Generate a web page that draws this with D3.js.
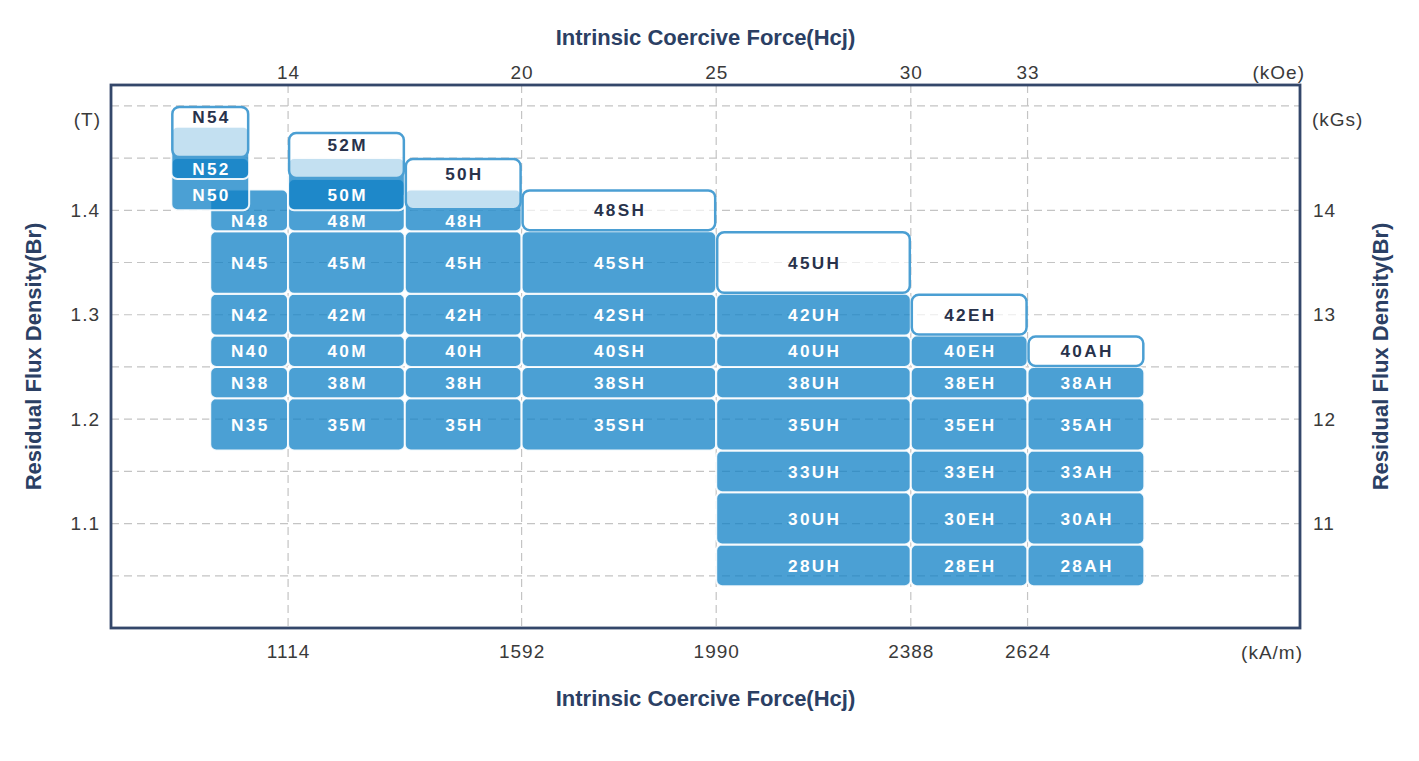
<!DOCTYPE html>
<html><head><meta charset="utf-8">
<script src="https://cdn.jsdelivr.net/npm/d3@7"></script>
<style>body{margin:0;background:#fff}svg{display:block}</style>
</head><body><svg id="c" width="1419" height="761"></svg>
<script>
// ---- data ----
const gradeNames = [
 'N35','N38','N40','N42','N45','N48','N50','N52','N54',
 '35M','38M','40M','42M','45M','48M','50M','52M',
 '35H','38H','40H','42H','45H','48H','50H',
 '35SH','38SH','40SH','42SH','45SH','48SH',
 '28UH','30UH','33UH','35UH','38UH','40UH','42UH','45UH',
 '28EH','30EH','33EH','35EH','38EH','40EH','42EH',
 '28AH','30AH','33AH','35AH','38AH','40AH'];
const brLow = [
 1.17,1.22,1.25,1.28,1.32,1.38,1.40,1.43,1.45,
 1.17,1.22,1.25,1.28,1.32,1.38,1.40,1.43,
 1.17,1.22,1.25,1.28,1.32,1.38,1.40,
 1.17,1.22,1.25,1.28,1.32,1.38,
 1.04,1.08,1.13,1.17,1.22,1.25,1.28,1.32,
 1.04,1.08,1.13,1.17,1.22,1.25,1.28,
 1.04,1.08,1.13,1.17,1.22,1.25];
const brHigh = [
 1.22,1.25,1.28,1.32,1.38,1.42,1.45,1.48,1.50,
 1.22,1.25,1.28,1.32,1.38,1.43,1.45,1.475,
 1.22,1.25,1.28,1.32,1.38,1.42,1.45,
 1.22,1.25,1.28,1.32,1.38,1.42,
 1.08,1.13,1.17,1.22,1.25,1.28,1.32,1.38,
 1.08,1.13,1.17,1.22,1.25,1.28,1.32,
 1.08,1.13,1.17,1.22,1.25,1.28];
const hcjLow = [
 12,12,12,12,12,12,11,11,11,
 14,14,14,14,14,14,14,14,
 17,17,17,17,17,17,17,
 20,20,20,20,20,20,
 25,25,25,25,25,25,25,25,
 30,30,30,30,30,30,30,
 33,33,33,33,33,33];
const hcjHigh = [
 14,14,14,14,14,14,13,13,13,
 17,17,17,17,17,17,17,17,
 20,20,20,20,20,20,20,
 25,25,25,25,25,25,
 30,30,30,30,30,30,30,30,
 33,33,33,33,33,33,33,
 36,36,36,36,36,36];
const newGrades = ['N54','52M','50H','48SH','45UH','42EH','40AH'];

const kOeTicks = [14,20,25,30,33];
const kAmLabels = ['1114','1592','1990','2388','2624'];
const teslaTicks = [1.1,1.2,1.3,1.4];
const kGsLabels = ['11','12','13','14'];
const gridBr = [1.05,1.10,1.15,1.20,1.25,1.30,1.35,1.40,1.45,1.50];
const titleX = 'Intrinsic Coercive Force(Hcj)';
const titleY = 'Residual Flux Density(Br)';

// ---- layout ----
const L = 111, R = 1300, T = 85, B = 628;
const svg = d3.select('#c');
const x = d3.scaleLinear().domain([9.45, 40]).range([L, R]);
const y = d3.scaleLinear().domain([1.0, 1.52]).range([B, T]);

const grades = gradeNames.map((n, i) => ({
  name: n, fam: n.replace(/\d+/, ''), lo: brLow[i], hi: brHigh[i],
  h0: hcjLow[i], h1: hcjHigh[i], isNew: newGrades.includes(n)
}));
d3.groups(grades, d => d.fam).forEach(([f, arr]) => {
  arr.sort((a, b) => a.lo - b.lo);
  arr.forEach((g, i) => {
    const prev = arr[i - 1], next = arr[i + 1];
    if (g.isNew) {
      const a = prev ? Math.max(g.lo, prev.hi) : g.lo;
      g.labelBr = (a + g.hi) / 2;
    } else {
      const b = next ? Math.min(g.hi, next.lo) : g.hi;
      g.labelBr = (g.lo + b) / 2;
    }
  });
});

// grid
const grid = svg.append('g').attr('stroke', '#c4c4c4').attr('stroke-width', 1.2)
  .attr('stroke-dasharray', '8,5');
grid.selectAll('line.h').data(gridBr).join('line')
  .attr('x1', L).attr('x2', R).attr('y1', d => y(d)).attr('y2', d => y(d));
grid.selectAll('line.v').data(kOeTicks).join('line')
  .attr('y1', T).attr('y2', B).attr('x1', d => x(d)).attr('x2', d => x(d));

// solid blocks
const solid = grades.filter(g => !g.isNew);
svg.append('g').selectAll('rect').data(solid).join('rect')
  .attr('x', d => x(d.h0)).attr('width', d => x(d.h1) - x(d.h0))
  .attr('y', d => y(d.hi)).attr('height', d => y(d.lo) - y(d.hi))
  .attr('rx', 6).attr('ry', 6)
  .attr('fill', 'rgb(15,128,198)').attr('fill-opacity', 0.75)
  .attr('stroke', '#fff').attr('stroke-opacity', 0.9).attr('stroke-width', 2);

// new (outlined) grades
const nw = grades.filter(g => g.isNew);
svg.append('g').selectAll('rect').data(nw).join('rect')
  .attr('x', d => x(d.h0) + 1).attr('width', d => x(d.h1) - x(d.h0) - 2)
  .attr('y', d => y(d.hi) + 1).attr('height', d => y(d.lo) - y(d.hi) - 2)
  .attr('rx', 7).attr('ry', 7)
  .attr('fill', '#fff').attr('fill-opacity', 0.67)
  .attr('stroke', '#4b9fd3').attr('stroke-width', 2.5);

// labels
const ls = 2.3;
svg.append('g').selectAll('text').data(grades).join('text')
  .attr('x', d => (x(d.h0) + x(d.h1)) / 2 + ls / 2)
  .attr('y', d => y(d.labelBr))
  .attr('dy', '0.36em')
  .attr('text-anchor', 'middle')
  .attr('font-family', '"Liberation Sans", Arial, sans-serif')
  .attr('font-weight', 'bold').attr('font-size', 17.2)
  .attr('letter-spacing', ls)
  .attr('fill', d => d.isNew ? '#28324b' : '#fff')
  .text(d => d.name);

// frame
svg.append('rect').attr('x', L).attr('y', T).attr('width', R - L).attr('height', B - T)
  .attr('fill', 'none').attr('stroke', '#34476a').attr('stroke-width', 2.8);

// axes
const tickFont = g => g.call(s => s.select('.domain').remove())
  .selectAll('text').attr('font-family', '"Liberation Sans", Arial, sans-serif')
  .attr('font-size', 19).attr('fill', '#3a3a3a').attr('letter-spacing', 1);

svg.append('g').attr('transform', `translate(0,${T})`)
  .call(d3.axisTop(x).tickValues(kOeTicks).tickSize(0).tickPadding(6).tickFormat(d3.format('d')))
  .call(tickFont);
svg.append('g').attr('transform', `translate(0,${B})`)
  .call(d3.axisBottom(x).tickValues(kOeTicks).tickSize(0).tickPadding(17)
    .tickFormat((d, i) => kAmLabels[i]))
  .call(tickFont);
svg.append('g').attr('transform', `translate(${L},0)`)
  .call(d3.axisLeft(y).tickValues(teslaTicks).tickSize(0).tickPadding(11).tickFormat(d3.format('.1f')))
  .call(tickFont);
svg.append('g').attr('transform', `translate(${R},0)`)
  .call(d3.axisRight(y).tickValues(teslaTicks).tickSize(0).tickPadding(13)
    .tickFormat((d, i) => kGsLabels[i]))
  .call(tickFont);

// unit labels
const unit = (txt, px, py, anchor) => svg.append('text').attr('x', px).attr('y', py)
  .attr('text-anchor', anchor).attr('dy', '0.32em')
  .attr('font-family', '"Liberation Sans", Arial, sans-serif')
  .attr('font-size', 19).attr('fill', '#3a3a3a').attr('letter-spacing', 1).text(txt);
unit('(T)', L - 10, y(1.5) + 14, 'end');
unit('(kGs)', R + 12, y(1.5) + 14, 'start');
unit('(kOe)', R + 5, T - 12, 'end');
unit('(kA/m)', R + 3, B + 25, 'end');

// titles
const titleStyle = s => s.attr('font-family', '"Liberation Sans", Arial, sans-serif')
  .attr('font-weight', 'bold').attr('font-size', 22).attr('fill', '#2b4064')
  .attr('text-anchor', 'middle');
svg.append('text').attr('x', (L + R) / 2).attr('y', 45).call(titleStyle).text(titleX);
svg.append('text').attr('x', (L + R) / 2).attr('y', 706).call(titleStyle).text(titleX);
svg.append('text').attr('transform', `translate(41,${(T + B) / 2}) rotate(-90)`).call(titleStyle).text(titleY);
svg.append('text').attr('transform', `translate(1388,${(T + B) / 2}) rotate(-90)`).call(titleStyle).text(titleY);
</script></body></html>
